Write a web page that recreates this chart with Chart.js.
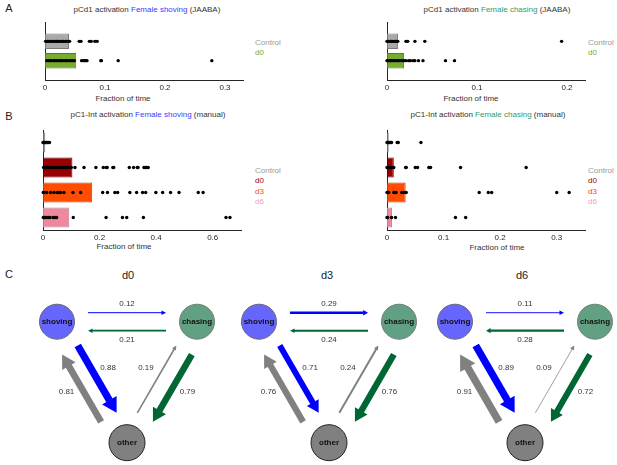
<!DOCTYPE html>
<html>
<head>
<meta charset="utf-8">
<script src="https://cdn.jsdelivr.net/npm/chart.js@4.4.1/dist/chart.umd.min.js"></script>
<style>
  html, body { margin: 0; padding: 0; background: #fff; }
  #fig { position: relative; width: 617px; height: 465px; overflow: hidden;
         font-family: "Liberation Sans", Arial, sans-serif; color: #262626; }
  #fig canvas { position: absolute; }
  .t { position: absolute; white-space: nowrap; transform: translate(-50%, -50%); font-size: 8px; line-height: 1; color: #333; }
  .l { position: absolute; white-space: nowrap; transform: translateY(-50%); font-size: 8px; line-height: 1; }
  .blue { color: #3c3cff; }
  .green { color: #339966; }
</style>
</head>
<body>
<div id="fig">
  <div class="t" style="left:9px;top:8px;font-size:11px;color:#222">A</div>
  <div class="t" style="left:147px;top:10px">pCd1 activation <span class="blue">Female shoving</span> (JAABA)</div>
  <div class="t" style="left:497px;top:10px">pCd1 activation <span class="green">Female chasing</span> (JAABA)</div>
  <div class="l" style="left:255px;top:43px;color:#999">Control</div>
  <div class="l" style="left:255px;top:53px;color:#77ac30">d0</div>
  <div class="l" style="left:588px;top:43px;color:#999">Control</div>
  <div class="l" style="left:588px;top:53px;color:#77ac30">d0</div>
  <div class="t" style="left:123px;top:99px">Fraction of time</div>
  <div class="t" style="left:471px;top:99px">Fraction of time</div>

  <div class="t" style="left:9px;top:116px;font-size:11px;color:#222">B</div>
  <div class="t" style="left:148px;top:115px">pC1-Int activation <span class="blue">Female shoving</span> (manual)</div>
  <div class="t" style="left:488px;top:115px">pC1-Int activation <span class="green">Female chasing</span> (manual)</div>
  <div class="l" style="left:255px;top:171px;color:#999">Control</div>
  <div class="l" style="left:255px;top:181px;color:#990000">d0</div>
  <div class="l" style="left:255px;top:191.5px;color:#ff4500">d3</div>
  <div class="l" style="left:255px;top:202px;color:#f4a0b2">d6</div>
  <div class="l" style="left:588px;top:171px;color:#999">Control</div>
  <div class="l" style="left:588px;top:181px;color:#990000">d0</div>
  <div class="l" style="left:588px;top:191.5px;color:#ff4500">d3</div>
  <div class="l" style="left:588px;top:202px;color:#f4a0b2">d6</div>
  <div class="t" style="left:124px;top:247px">Fraction of time</div>
  <div class="t" style="left:497px;top:247.5px">Fraction of time</div>

  <div class="t" style="left:9px;top:274px;font-size:11px;color:#222">C</div>
  <div class="t" style="left:128px;top:275px;font-size:11px;color:#222">d0</div>
  <div class="t" style="left:327px;top:275px;font-size:11px;color:#222">d3</div>
  <div class="t" style="left:522px;top:275px;font-size:11px;color:#222">d6</div>
</div>
<script>
"use strict";

// ── data: panel A (pCd1, JAABA) ──────────────
const A_CATS = ["Control", "d0"];
const A_SHOVE_TICKS = [0, 0.1, 0.2, 0.3];
const A_SHOVE_MEAN = [0.040, 0.052];
const A_SHOVE_CTRL = [0.001, 0.004, 0.005, 0.008, 0.010, 0.013, 0.014, 0.017, 0.019, 0.020, 0.023, 0.026, 0.027,
                      0.030, 0.031, 0.034, 0.036, 0.039, 0.041, 0.057, 0.060, 0.074, 0.077, 0.083, 0.087];
const A_SHOVE_D0 = [0.003, 0.006, 0.009, 0.011, 0.015, 0.016, 0.019, 0.022, 0.025, 0.027, 0.030, 0.034, 0.035,
                    0.038, 0.041, 0.044, 0.046, 0.049, 0.061, 0.064, 0.066, 0.068, 0.070, 0.093, 0.094, 0.122, 0.278];
const A_CHASE_TICKS = [0, 0.1, 0.2];
const A_CHASE_MEAN = [0.0123, 0.019];
const A_CHASE_CTRL = [0.000, 0.001, 0.002, 0.004, 0.005, 0.006, 0.008, 0.009, 0.010, 0.011, 0.012,
                      0.021, 0.023, 0.031, 0.042, 0.194];
const A_CHASE_D0 = [0.000, 0.001, 0.003, 0.004, 0.005, 0.007, 0.008, 0.010, 0.012, 0.013, 0.015, 0.017,
                    0.019, 0.021, 0.024, 0.026, 0.029, 0.031, 0.035, 0.040, 0.065, 0.075];

// ── data: panel B (pC1-Int, manual) ──────────
const B_CATS = ["Control", "d0", "d3", "d6"];
const B_SHOVE_TICKS = [0, 0.2, 0.4, 0.6];
const B_SHOVE_MEAN = [0.008, 0.104, 0.174, 0.093];
const B_SHOVE_CTRL = [0.000, 0.002, 0.004, 0.006, 0.008, 0.011, 0.013, 0.016, 0.020, 0.023];
const B_SHOVE_D0 = [0.002, 0.005, 0.011, 0.016, 0.020, 0.027, 0.031, 0.038, 0.044, 0.049, 0.056, 0.062, 0.067,
                    0.075, 0.081, 0.086, 0.094, 0.100, 0.113, 0.145, 0.187, 0.213, 0.223, 0.227, 0.247, 0.250,
                    0.305, 0.320, 0.333, 0.336, 0.357, 0.362, 0.366, 0.372];
const B_SHOVE_D3 = [0.001, 0.003, 0.013, 0.027, 0.039, 0.050, 0.056, 0.062, 0.074, 0.106, 0.133, 0.211, 0.228,
                    0.254, 0.264, 0.307, 0.331, 0.352, 0.363, 0.399, 0.423, 0.451, 0.481, 0.549, 0.566];
const B_SHOVE_D6 = [0.001, 0.004, 0.007, 0.013, 0.019, 0.025, 0.036, 0.042, 0.048, 0.107, 0.223, 0.281, 0.296,
                    0.355, 0.647, 0.661];
const B_CHASE_TICKS = [0, 0.1, 0.2, 0.3];
const B_CHASE_MEAN = [0.003, 0.012, 0.033, 0.009];
const B_CHASE_CTRL = [0.000, 0.001, 0.002, 0.003, 0.004, 0.006, 0.008, 0.018, 0.020, 0.060];
const B_CHASE_D0 = [0.000, 0.002, 0.004, 0.006, 0.008, 0.010, 0.012, 0.033, 0.034, 0.050, 0.054, 0.074, 0.077,
                    0.130, 0.246];
const B_CHASE_D3 = [0.000, 0.001, 0.003, 0.012, 0.014, 0.016, 0.026, 0.030, 0.034, 0.163, 0.179, 0.185, 0.300, 0.322];
const B_CHASE_D6 = [0.000, 0.001, 0.008, 0.015, 0.121, 0.139];

// ── data: panel C (transition probabilities) ─
const C_DAYS = ["d0", "d3", "d6"];
const C_NODES = ["shoving", "chasing", "other"];
const P_SHOVE_CHASE = [0.12, 0.29, 0.11];
const P_CHASE_SHOVE = [0.21, 0.24, 0.28];
const P_SHOVE_OTHER = [0.88, 0.71, 0.89];
const P_OTHER_SHOVE = [0.81, 0.76, 0.91];
const P_CHASE_OTHER = [0.79, 0.76, 0.72];
const P_OTHER_CHASE = [0.19, 0.24, 0.09];

// ── styles ───────────────────────────────────
const FONT = '"Liberation Sans", Arial, sans-serif';
const AXIS = "#262626";
const A_FILL = ["#a9a9a9", "#77ac30"];
const A_EDGE = ["#7a7a7a", "#557d20"];
const B_FILL = ["#a0a0a0", "#990000", "#ff4d00", "#f0879c"];
const B_EDGE = ["#707070", "#660000", "#c83c00", "#a98890"];

const fig = document.getElementById("fig");

function addCanvas(left, top, w, h) {
  const c = document.createElement("canvas");
  c.width = w; c.height = h;
  c.style.left = left + "px"; c.style.top = top + "px";
  c.style.width = w + "px"; c.style.height = h + "px";
  fig.appendChild(c);
  return c;
}

// horizontal bar + dot strip chart
function stripChart(box, cats, means, groups, fills, edges, xMax, ticks) {
  const PAD = 12, AXIS_H = 24;
  const cv = addCanvas(box.left - PAD, box.top - 4, box.width + 2 * PAD, box.height + 4 + AXIS_H);
  const pos = cats.map((_, i) => i + 1);

  const datasets = [{
    type: "bar",
    data: means.map((v, i) => ({ x: v, y: pos[i] })),
    backgroundColor: fills,
    borderColor: edges,
    borderWidth: 1,
    borderSkipped: false,
    barPercentage: 0.8,
    categoryPercentage: 1,
    order: 2,
  }];
  groups.forEach((vals, i) => {
    datasets.push({
      type: "scatter",
      data: vals.map((v) => ({ x: v, y: pos[i] })),
      pointRadius: 1.7,
      pointBackgroundColor: "#000",
      pointBorderWidth: 0,
      clip: false,
      order: 1,
    });
  });

  new Chart(cv, {
    type: "bar",
    data: { datasets },
    options: {
      indexAxis: "y",
      responsive: false,
      animation: false,
      layout: { autoPadding: false, padding: { left: PAD, right: PAD, top: 4, bottom: 0 } },
      plugins: { legend: { display: false }, tooltip: { enabled: false } },
      scales: {
        x: {
          type: "linear", min: 0, max: xMax, offset: false,
          grid: { display: false, drawTicks: false },
          border: { color: AXIS, width: 1 },
          afterBuildTicks: (s) => { s.ticks = ticks.map((v) => ({ value: v })); },
          ticks: { color: AXIS, font: { size: 8, family: FONT }, padding: 3, maxRotation: 0, autoSkip: false,
                   callback: (v) => String(v) },
          afterFit: (s) => { s.height = AXIS_H; },
        },
        y: {
          type: "linear", min: box.yMin, max: box.yMax, reverse: true, offset: false,
          grid: { display: false, drawTicks: false },
          border: { color: AXIS, width: 1 },
          ticks: { display: false },
          afterBuildTicks: (s) => { s.ticks = pos.map((v) => ({ value: v })); },
          afterFit: (s) => { s.width = 0; },
        },
      },
    },
  });
}

stripChart({ left: 45, top: 22, width: 198, height: 58, yMin: 0, yMax: 3 },
  A_CATS, A_SHOVE_MEAN, [A_SHOVE_CTRL, A_SHOVE_D0], A_FILL, A_EDGE, 0.33, A_SHOVE_TICKS);
stripChart({ left: 387, top: 22, width: 198, height: 58, yMin: 0, yMax: 3 },
  A_CATS, A_CHASE_MEAN, [A_CHASE_CTRL, A_CHASE_D0], A_FILL, A_EDGE, 0.22, A_CHASE_TICKS);
stripChart({ left: 43, top: 130, width: 198, height: 100, yMin: 0.5, yMax: 4.5 },
  B_CATS, B_SHOVE_MEAN, [B_SHOVE_CTRL, B_SHOVE_D0, B_SHOVE_D3, B_SHOVE_D6], B_FILL, B_EDGE, 0.7, B_SHOVE_TICKS);
stripChart({ left: 387, top: 130, width: 198, height: 100, yMin: 0.5, yMax: 4.5 },
  B_CATS, B_CHASE_MEAN, [B_CHASE_CTRL, B_CHASE_D0, B_CHASE_D3, B_CHASE_D6], B_FILL, B_EDGE, 0.35, B_CHASE_TICKS);

// ── panel C: transition diagrams ─────────────
const NODE_XY = [[-70, 0], [70, 0], [0, -121]];   // layout, 1 unit = 1 px
const NODE_R = [17.5, 17.5, 18];
const NODE_FILL = ["#6666ff", "#62a083", "#808080"];
const NODE_EDGE = ["#666677", "#6f7f77", "#222222"];
const SRC_COLOR = ["#0000ff", "#006633", "#808080"];
const EDGES = [
  [0, 1, P_SHOVE_CHASE], [1, 0, P_CHASE_SHOVE],
  [0, 2, P_SHOVE_OTHER], [2, 0, P_OTHER_SHOVE],
  [1, 2, P_CHASE_OTHER], [2, 1, P_OTHER_CHASE],
];
const GAP = 31, LANE = 9, W_PER_P = 8.3;

function drawArrow(ctx, x1, y1, x2, y2, w, color) {
  const dx = x2 - x1, dy = y2 - y1, len = Math.hypot(dx, dy);
  const ux = dx / len, uy = dy / len;
  const hl = Math.max(4.5, 2 * w), hw = Math.max(2.2, 1.15 * w);
  const bx = x2 - ux * hl, by = y2 - uy * hl;
  ctx.strokeStyle = color;
  ctx.fillStyle = color;
  ctx.lineWidth = w;
  ctx.lineCap = "butt";
  ctx.beginPath();
  ctx.moveTo(x1, y1);
  ctx.lineTo(bx + ux * 0.5, by + uy * 0.5);
  ctx.stroke();
  ctx.beginPath();
  ctx.moveTo(x2, y2);
  ctx.lineTo(bx - uy * hw, by + ux * hw);
  ctx.lineTo(bx + uy * hw, by - ux * hw);
  ctx.closePath();
  ctx.fill();
}

function arrowPlugin(day) {
  return {
    id: "arrows",
    beforeDatasetsDraw(chart) {
      const ctx = chart.ctx;
      const pts = chart.getDatasetMeta(0).data.map((p) => ({ x: p.x, y: p.y }));
      const cx = (pts[0].x + pts[1].x + pts[2].x) / 3;
      const cy = (pts[0].y + pts[1].y + pts[2].y) / 3;
      ctx.save();
      EDGES.forEach(([a, b, probs]) => {
        const p = probs[day];
        const A = pts[a], B = pts[b];
        const dx = B.x - A.x, dy = B.y - A.y, len = Math.hypot(dx, dy);
        const ux = dx / len, uy = dy / len;
        const lx = uy, ly = -ux;                     // left of travel
        const diag = a === 2 || b === 2;
        const mx = (A.x + B.x) / 2 - cx, my = (A.y + B.y) / 2 - cy, ml = Math.hypot(mx, my);
        const sh = diag ? 3 : 0;
        const nx = mx / ml * sh, ny = my / ml * sh;  // small outward shift
        const ox = lx * LANE + nx, oy = ly * LANE + ny;
        drawArrow(ctx, A.x + ux * GAP + ox, A.y + uy * GAP + oy,
                       B.x - ux * GAP + ox, B.y - uy * GAP + oy, p * W_PER_P, SRC_COLOR[a]);

        let tx, ty;
        if (diag) {
          const top = a === 2 ? B : A, oth = a === 2 ? A : B;
          tx = top.x + 0.47 * (oth.x - top.x);
          ty = top.y + 0.47 * (oth.y - top.y);
        } else {
          tx = (A.x + B.x) / 2;
          ty = (A.y + B.y) / 2;
        }
        const d = diag ? 24 : 18;
        tx += lx * d + nx;
        ty += ly * d + ny;
        ctx.fillStyle = "#333";
        ctx.font = "8px " + FONT;
        ctx.textAlign = "center";
        ctx.textBaseline = "middle";
        ctx.fillText(p.toFixed(2), tx, ty);
      });
      ctx.restore();
    },
    afterDatasetsDraw(chart) {
      const ctx = chart.ctx;
      ctx.save();
      ctx.fillStyle = "#111";
      ctx.font = "bold 8px " + FONT;
      ctx.textAlign = "center";
      ctx.textBaseline = "middle";
      chart.getDatasetMeta(0).data.forEach((p, i) => ctx.fillText(C_NODES[i], p.x, p.y + 0.5));
      ctx.restore();
    },
  };
}

const C_CENTER_X = [127.3, 328.6, 524.8];
C_DAYS.forEach((name, day) => {
  const cv = addCanvas(C_CENTER_X[day] - 100, 285, 200, 180);
  new Chart(cv, {
    type: "scatter",
    data: {
      datasets: [{
        data: NODE_XY.map(([x, y]) => ({ x, y })),
        pointRadius: NODE_R,
        pointHoverRadius: NODE_R,
        pointBackgroundColor: NODE_FILL,
        pointBorderColor: NODE_EDGE,
        pointBorderWidth: 1,
        clip: false,
      }],
    },
    options: {
      responsive: false,
      animation: false,
      layout: { autoPadding: false, padding: 0 },
      plugins: { legend: { display: false }, tooltip: { enabled: false } },
      scales: {
        x: { type: "linear", min: -100, max: 100, display: false },
        y: { type: "linear", min: -143.3, max: 36.7, display: false },
      },
    },
    plugins: [arrowPlugin(day)],
  });
});
</script>
</body>
</html>
